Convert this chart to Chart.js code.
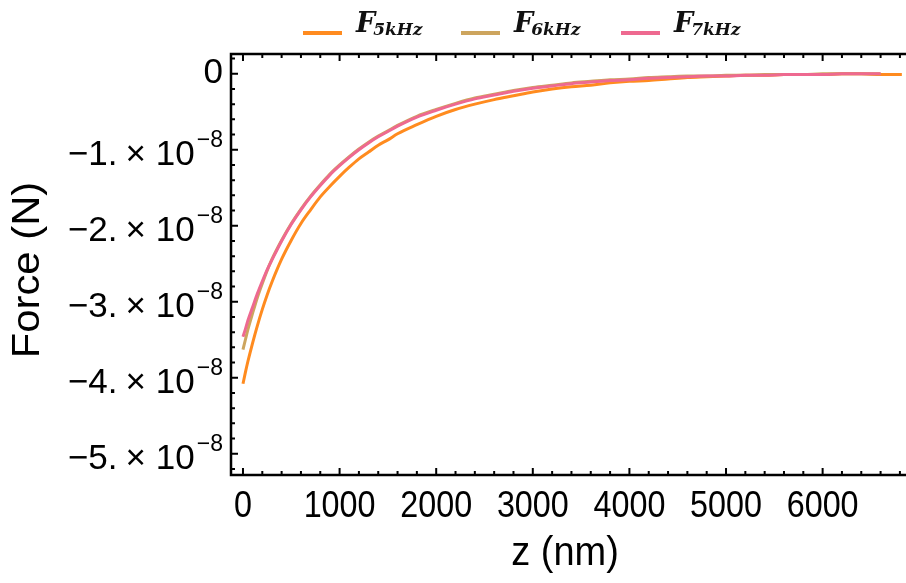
<!DOCTYPE html>
<html>
<head>
<meta charset="utf-8">
<script src="https://cdn.jsdelivr.net/npm/chart.js@4/dist/chart.umd.min.js"></script>
<style>
  html, body { margin: 0; padding: 0; background: #fff; }
  #wrap { width: 906px; height: 583px; }
</style>
</head>
<body>
<div id="wrap"><canvas id="forceChart" width="906" height="583"></canvas></div>
<script>
// distance z (nm)
const zNm = [0, 25, 50, 100, 150, 200, 250, 300, 400, 500, 600, 700, 800, 900, 1000,
  1100, 1200, 1300, 1400, 1500, 1600, 1800, 2000, 2200, 2400, 2600, 2800, 3000,
  3200, 3400, 3600, 3800, 4000, 4200, 4400, 4600, 4800, 5000, 5200, 5400, 5600,
  5800, 6000, 6200, 6400, 6600, 6820];

// force, in units of 1e-8 N
const f5kHz = [-4.08, -3.93, -3.79, -3.54, -3.31, -3.10, -2.91, -2.74, -2.44, -2.19, -1.97,
  -1.79, -1.62, -1.48, -1.35, -1.23, -1.12, -1.03, -0.94, -0.87, -0.79, -0.67, -0.56,
  -0.47, -0.40, -0.34, -0.29, -0.24, -0.20, -0.17, -0.15, -0.12, -0.10, -0.09, -0.07,
  -0.05, -0.04, -0.03, -0.02, -0.02, -0.01, -0.01, -0.01, 0.00, 0.00, -0.01, -0.01];
const f6kHz = [-3.63, -3.50, -3.37, -3.15, -2.94, -2.76, -2.59, -2.44, -2.19, -1.97, -1.78,
  -1.61, -1.46, -1.32, -1.20, -1.09, -0.99, -0.90, -0.82, -0.75, -0.68, -0.56, -0.47,
  -0.39, -0.32, -0.27, -0.22, -0.18, -0.15, -0.12, -0.10, -0.08, -0.07, -0.05, -0.04,
  -0.03, -0.03, -0.02, -0.02, -0.01, -0.01, -0.01, 0.00, 0.00, 0.00, 0.00, null];
const f7kHz = [-3.46, -3.36, -3.25, -3.07, -2.89, -2.73, -2.58, -2.45, -2.20, -1.98, -1.79,
  -1.62, -1.47, -1.33, -1.21, -1.10, -1.00, -0.91, -0.83, -0.76, -0.69, -0.57, -0.48,
  -0.40, -0.33, -0.28, -0.23, -0.19, -0.16, -0.13, -0.11, -0.09, -0.08, -0.06, -0.05,
  -0.04, -0.03, -0.03, -0.02, -0.02, -0.01, -0.01, -0.01, 0.00, 0.00, 0.00, null];

const xTicks = [0, 1000, 2000, 3000, 4000, 5000, 6000];
const yTicks = [0, -1, -2, -3, -4, -5];
const seriesNames = ['5kHz', '6kHz', '7kHz'];

const orange = '#FF8B1F';
const tan = '#CDA55E';
const pink = '#EE6990';

const pts = vals => zNm.map((z, i) => ({ x: z, y: vals[i] }));

const mmaFrame = {
  id: 'mmaFrame',
  afterDraw(chart) {
    const { ctx, chartArea: a, scales: { x, y } } = chart;
    ctx.save();
    ctx.strokeStyle = '#000';
    ctx.fillStyle = '#000';

    // frame: top, left, bottom (no right side)
    ctx.lineWidth = 2.5;
    ctx.beginPath();
    ctx.moveTo(a.right, a.top);
    ctx.lineTo(a.left, a.top);
    ctx.lineTo(a.left, a.bottom);
    ctx.lineTo(a.right, a.bottom);
    ctx.stroke();

    // inward ticks
    ctx.lineWidth = 2;
    ctx.beginPath();
    for (let v = 0; v <= x.max; v += 200) {
      const px = x.getPixelForValue(v);
      const len = v % 1000 === 0 ? 7 : 4;
      ctx.moveTo(px, a.bottom); ctx.lineTo(px, a.bottom - len);
      ctx.moveTo(px, a.top); ctx.lineTo(px, a.top + len);
    }
    for (let k = Math.ceil(y.min * 5); k <= Math.floor(y.max * 5); k++) {
      const py = y.getPixelForValue(k / 5);
      const len = k % 5 === 0 ? 7 : 4;
      ctx.moveTo(a.left, py); ctx.lineTo(a.left + len, py);
    }
    ctx.stroke();

    // x tick labels
    ctx.textAlign = 'center';
    ctx.textBaseline = 'middle';
    ctx.font = '34px "Liberation Sans", Arial, sans-serif';
    xTicks.forEach(v => {
      const px = x.getPixelForValue(v);
      ctx.save();
      ctx.translate(px, 507);
      ctx.scale(0.95, 1.1);
      ctx.fillText(String(v), 0, 0);
      ctx.restore();
    });

    // y tick labels, Mathematica style "−1.×10⁻⁸"
    const big = '35px "Liberation Sans", Arial, sans-serif';
    const sup = '23px "Liberation Sans", Arial, sans-serif';
    yTicks.forEach(v => {
      const py = y.getPixelForValue(v);
      let right = a.left - 8;
      ctx.textAlign = 'right';
      ctx.textBaseline = 'middle';
      if (v === 0) {
        ctx.font = big;
        ctx.fillText('0', right, py);
        return;
      }
      ctx.font = sup;
      ctx.fillText('\u22128', right, py - 9);
      right -= ctx.measureText('\u22128').width + 2;
      ctx.font = big;
      ctx.fillText('10', right, py + 6);
      right -= ctx.measureText('10').width + 10;
      ctx.fillText('\u00d7', right, py + 6);
      right -= ctx.measureText('\u00d7').width + 8;
      ctx.fillText('\u2212' + Math.abs(v) + '.', right, py + 6);
    });

    // axis titles
    ctx.font = '38px "Liberation Sans", Arial, sans-serif';
    ctx.textAlign = 'center';
    ctx.save();
    ctx.translate(565, 554);
    ctx.scale(1, 1.08);
    ctx.fillText('z (nm)', 0, 0);
    ctx.restore();
    ctx.save();
    ctx.translate(29, 270);
    ctx.rotate(-Math.PI / 2);
    ctx.scale(1.1, 1);
    ctx.fillText('Force (N)', 0, 0);
    ctx.restore();

    // legend
    const startX = [303, 461, 621];
    chart.data.datasets.forEach((ds, i) => {
      const sx = startX[i];
      ctx.strokeStyle = ds.borderColor;
      ctx.lineWidth = 4;
      ctx.beginPath();
      ctx.moveTo(sx, 33); ctx.lineTo(sx + 39, 33);
      ctx.stroke();
      ctx.fillStyle = '#111';
      ctx.textAlign = 'left';
      ctx.textBaseline = 'alphabetic';
      ctx.font = 'italic bold 27px "DejaVu Serif", serif';
      ctx.fillText('F', sx + 53, 32);
      const fw = ctx.measureText('F').width;
      ctx.font = 'italic bold 17px "DejaVu Serif", serif';
      ctx.fillText(seriesNames[i], sx + 53 + fw - 2, 35);
    });
    ctx.restore();
  }
};

new Chart(document.getElementById('forceChart'), {
  type: 'line',
  data: {
    datasets: [
      { label: 'F5kHz', data: pts(f5kHz), borderColor: orange, order: 3 },
      { label: 'F6kHz', data: pts(f6kHz), borderColor: tan, order: 2 },
      { label: 'F7kHz', data: pts(f7kHz), borderColor: pink, order: 1 }
    ]
  },
  options: {
    responsive: false,
    animation: false,
    devicePixelRatio: 1,
    layout: { padding: { left: 231, top: 54, right: 0, bottom: 108 } },
    elements: {
      point: { radius: 0 },
      line: { borderWidth: 3, cubicInterpolationMode: 'monotone', fill: false }
    },
    plugins: { legend: { display: false }, tooltip: { enabled: false } },
    scales: {
      x: { type: 'linear', min: -124, max: 6863, display: false },
      y: { type: 'linear', min: -5.28, max: 0.26, display: false }
    }
  },
  plugins: [mmaFrame]
});
</script>
</body>
</html>
